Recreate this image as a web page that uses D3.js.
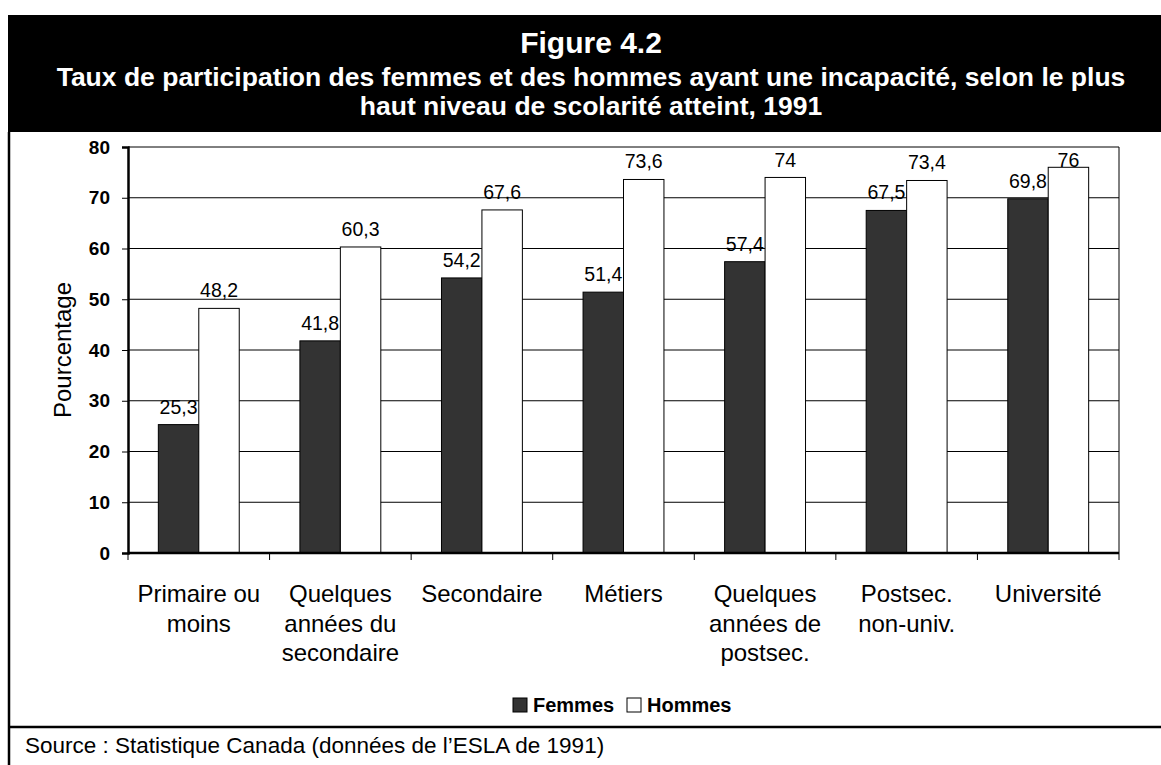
<!DOCTYPE html>
<html>
  <head>
    <meta charset="utf-8">
    <title>Figure 4.2</title>
    <style>
    body {
      margin: 0;
      background: #fff;
    }
    text {
      font-family: Arial, "Liberation Sans", sans-serif;
    }
    .axis--y text {
      font-weight: bold;
      font-size: 19px;
    }
    .axis path, .axis line {
      stroke: #000;
    }
    </style>
  </head>
  <body>
    <svg width="1161" height="765"></svg>
    <script src="https://d3js.org/d3.v7.min.js"></script>
    <script>

      var categories = [
        ["Primaire ou", "moins"],
        ["Quelques", "années du", "secondaire"],
        ["Secondaire"],
        ["Métiers"],
        ["Quelques", "années de", "postsec."],
        ["Postsec.", "non-univ."],
        ["Université"]
      ];
      var femmes = [25.3, 41.8, 54.2, 51.4, 57.4, 67.5, 69.8];
      var hommes = [48.2, 60.3, 67.6, 73.6, 74, 73.4, 76];
      var series = ["Femmes", "Hommes"];
      var colors = ["#333333", "#ffffff"];
      var yTicks = [0, 10, 20, 30, 40, 50, 60, 70, 80];

      var svg = d3.select("svg"),
          margin = {top: 147, right: 42, bottom: 212, left: 128},
          width = +svg.attr("width") - margin.left - margin.right,
          height = +svg.attr("height") - margin.top - margin.bottom;

      // title block
      svg.append("rect")
          .attr("x", 8).attr("y", 15)
          .attr("width", 1161 - 8).attr("height", 117)
          .attr("fill", "#000");

      svg.append("text")
          .attr("x", 591).attr("y", 53)
          .attr("text-anchor", "middle")
          .attr("fill", "#fff")
          .style("font-size", "30px")
          .style("font-weight", "bold")
          .text("Figure 4.2");

      svg.append("text")
          .attr("x", 591).attr("y", 86)
          .attr("text-anchor", "middle")
          .attr("fill", "#fff")
          .style("font-size", "26.5px")
          .style("font-weight", "bold")
          .text("Taux de participation des femmes et des hommes ayant une incapacité, selon le plus");

      svg.append("text")
          .attr("x", 591).attr("y", 115)
          .attr("text-anchor", "middle")
          .attr("fill", "#fff")
          .style("font-size", "26.5px")
          .style("font-weight", "bold")
          .text("haut niveau de scolarité atteint, 1991");

      // frame
      svg.append("line")
          .attr("x1", 9).attr("x2", 9).attr("y1", 132).attr("y2", 765)
          .attr("stroke", "#000").attr("stroke-width", 2.5);
      svg.append("line")
          .attr("x1", 8).attr("x2", 1161).attr("y1", 727).attr("y2", 727)
          .attr("stroke", "#000").attr("stroke-width", 2.5);

      var x0 = d3.scaleBand()
          .domain(d3.range(categories.length))
          .range([0, width]);

      var barW = x0.bandwidth() / 3.5;

      var x1 = d3.scaleBand()
          .domain(series)
          .range([x0.bandwidth() / 2 - barW, x0.bandwidth() / 2 + barW]);

      var y = d3.scaleLinear().domain([0, 80]).range([height, 0]);

      var g = svg.append("g")
          .attr("transform", "translate(" + margin.left + "," + margin.top + ")");

      // gridlines
      g.selectAll(".grid")
        .data(yTicks.slice(1))
        .enter().append("line")
          .attr("class", "grid")
          .attr("x1", 0).attr("x2", width)
          .attr("y1", function(d) { return y(d); })
          .attr("y2", function(d) { return y(d); })
          .attr("stroke", "#000")
          .attr("stroke-width", 1);

      // right border
      g.append("line")
          .attr("x1", width).attr("x2", width)
          .attr("y1", 0).attr("y2", height)
          .attr("stroke", "#000");

      var rows = categories.map(function(c, i) {
        return [
          {cat: i, key: "Femmes", value: femmes[i]},
          {cat: i, key: "Hommes", value: hommes[i]}
        ];
      });

      var groups = g.selectAll(".cat")
        .data(rows)
        .enter().append("g")
          .attr("class", "cat")
          .attr("transform", function(d, i) { return "translate(" + x0(i) + ",0)"; });

      groups.selectAll("rect")
        .data(function(d) { return d; })
        .enter().append("rect")
          .attr("x", function(d) { return x1(d.key); })
          .attr("y", function(d) { return y(d.value); })
          .attr("width", x1.bandwidth())
          .attr("height", function(d) { return height - y(d.value); })
          .attr("fill", function(d) { return colors[series.indexOf(d.key)]; })
          .attr("stroke", "#000")
          .attr("stroke-width", 1);

      // value labels, kept inside the plot area like the original
      groups.selectAll(".lbl")
        .data(function(d) { return d; })
        .enter().append("text")
          .attr("class", "lbl")
          .attr("x", function(d) { return x1(d.key) + x1.bandwidth() / 2; })
          .attr("y", function(d) { return Math.max(y(d.value) - 11, 20); })
          .attr("text-anchor", "middle")
          .style("font-size", "19.5px")
          .text(function(d) { return String(d.value).replace(".", ","); });

      // axes
      g.append("g")
          .attr("class", "axis axis--y")
          .call(d3.axisLeft(y).tickValues(yTicks).tickSize(6).tickPadding(12))
          .call(function(a) { a.select(".domain").attr("stroke-width", 2.5); });

      var xTickPos = d3.range(categories.length + 1).map(function(i) {
        return i * x0.step();
      });

      g.append("line")
          .attr("x1", 0).attr("x2", width)
          .attr("y1", height).attr("y2", height)
          .attr("stroke", "#000").attr("stroke-width", 2.5);

      g.selectAll(".xtick")
        .data(xTickPos)
        .enter().append("line")
          .attr("class", "xtick")
          .attr("x1", function(d) { return d; })
          .attr("x2", function(d) { return d; })
          .attr("y1", height).attr("y2", height + 7)
          .attr("stroke", "#000");

      var xl = g.selectAll(".xlabel")
        .data(categories)
        .enter().append("text")
          .attr("class", "xlabel")
          .attr("text-anchor", "middle")
          .attr("transform", function(d, i) {
            return "translate(" + (x0(i) + x0.bandwidth() / 2) + "," + (height + 49) + ")";
          })
          .style("font-size", "24px");

      xl.selectAll("tspan")
        .data(function(d) { return d; })
        .enter().append("tspan")
          .attr("x", 0)
          .attr("y", function(d, i) { return i * 29.5; })
          .text(function(d) { return d; });

      svg.append("text")
          .attr("transform", "translate(71," + (margin.top + height / 2) + ") rotate(-90)")
          .attr("text-anchor", "middle")
          .style("font-size", "24px")
          .text("Pourcentage");

      // legend
      var legend = svg.append("g").attr("transform", "translate(513,712)");
      var lx = [0, 114];
      series.forEach(function(s, i) {
        legend.append("rect")
            .attr("x", lx[i]).attr("y", -14)
            .attr("width", 14).attr("height", 14)
            .attr("fill", colors[i])
            .attr("stroke", "#000");
        legend.append("text")
            .attr("x", lx[i] + 20).attr("y", 0)
            .style("font-size", "20px")
            .style("font-weight", "bold")
            .text(s);
      });

      svg.append("text")
          .attr("x", 25).attr("y", 753)
          .style("font-size", "22.5px")
          .text("Source : Statistique Canada (données de l’ESLA de 1991)");
  </script>
  </body>
</html>
